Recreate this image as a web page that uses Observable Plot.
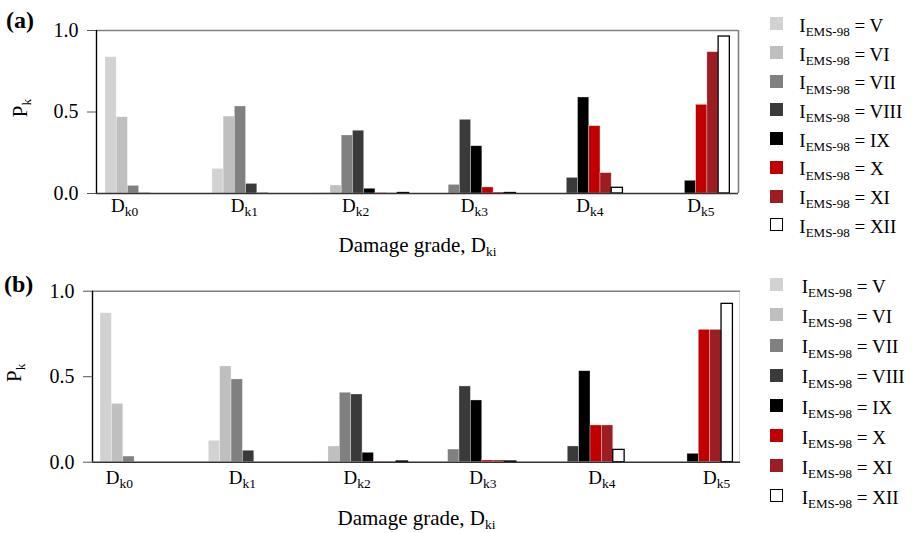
<!DOCTYPE html>
<html><head><meta charset="utf-8">
<script src="https://cdn.jsdelivr.net/npm/d3@7"></script>
<script src="https://cdn.jsdelivr.net/npm/@observablehq/plot@0.6"></script>
<style>
body{margin:0;background:#fff;}
#wrap{position:relative;width:920px;height:533px;font-family:"Liberation Serif",serif;color:#000;overflow:hidden;}
#wrap svg, #wrap svg text{font-family:"Liberation Serif",serif !important;}
.plabel{position:absolute;font-weight:bold;font-size:24px;line-height:24px;white-space:nowrap;}
.sw{position:absolute;width:13px;height:13px;box-sizing:border-box;}
.lt{position:absolute;font-size:19px;line-height:19px;white-space:nowrap;}
.sub{font-size:13px;position:relative;top:4.4px;}
</style></head><body><div id="wrap"></div>
<script>
// ---- data ----
const grades = ["D_k0", "D_k1", "D_k2", "D_k3", "D_k4", "D_k5"];
const intensities = ["V", "VI", "VII", "VIII", "IX", "X", "XI", "XII"];
const colors = ["#d2d2d2", "#bfbfbf", "#808080", "#3a3a3a", "#000000", "#c00000", "#9c1e22", "#ffffff"];

// panel (a): P_k per damage grade D_k0..D_k5
const aV    = [0.836, 0.151, 0.003, 0.000, 0.000, 0.000];
const aVI   = [0.468, 0.472, 0.049, 0.000, 0.000, 0.000];
const aVII  = [0.047, 0.534, 0.356, 0.053, 0.000, 0.000];
const aVIII = [0.002, 0.059, 0.385, 0.452, 0.096, 0.000];
const aIX   = [0.000, 0.002, 0.029, 0.290, 0.589, 0.078];
const aX    = [0.000, 0.000, 0.003, 0.037, 0.413, 0.544];
const aXI   = [0.000, 0.000, 0.001, 0.006, 0.125, 0.867];
const aXII  = [0.000, 0.000, 0.003, 0.003, 0.035, 0.963];

// panel (b)
const bV    = [0.871, 0.125, 0.002, 0.000, 0.000, 0.000];
const bVI   = [0.341, 0.560, 0.092, 0.000, 0.000, 0.000];
const bVII  = [0.033, 0.484, 0.406, 0.074, 0.000, 0.000];
const bVIII = [0.000, 0.067, 0.396, 0.443, 0.092, 0.000];
const bIX   = [0.000, 0.000, 0.055, 0.361, 0.532, 0.049];
const bX    = [0.000, 0.000, 0.003, 0.010, 0.215, 0.774];
const bXI   = [0.000, 0.000, 0.003, 0.010, 0.215, 0.774];
const bXII  = [0.000, 0.000, 0.004, 0.004, 0.072, 0.926];

// tick label positions (in group units)
const aTickPos = [0.18, 1.30, 2.34, 3.45, 4.53, 5.57];
const bTickPos = [0.175, 1.31, 2.37, 3.53, 4.63, 5.69];
const yTicks = [0, 0.5, 1];
const xTitle = "Damage grade, D_ki";
const yTitle = "P_k";

// ---- drawing ----
const BW = 0.105;
const wrap = document.getElementById("wrap");

function rows(vals) {
  const out = [];
  intensities.forEach((s, si) => grades.forEach((g, gi) => out.push({grade: g, gi, series: s, si, p: vals[si][gi]})));
  return out;
}

function subify(svg) {
  svg.querySelectorAll("text").forEach(t => {
    const s = t.textContent;
    if (!s.includes("_")) return;
    const [a, b] = s.split("_");
    while (t.firstChild) t.removeChild(t.firstChild);
    t.appendChild(document.createTextNode(a));
    const ts = document.createElementNS("http://www.w3.org/2000/svg", "tspan");
    ts.setAttribute("dy", "4");
    ts.setAttribute("font-size", "13.5");
    ts.textContent = b;
    t.appendChild(ts);
  });
}

function panel(vals, o) {
  const data = rows(vals);
  const tickMap = new Map(o.tickPos.map((p, i) => [p, grades[i]]));
  const x1 = d => d.gi + d.si * BW, x2 = d => d.gi + (d.si + 1) * BW;
  const plot = Plot.plot({
    width: 740, height: o.height,
    marginLeft: o.ml, marginRight: o.mr, marginTop: o.mt, marginBottom: o.mb,
    x: {type: "linear", domain: o.xdom},
    y: {domain: [0, 1]},
    color: {domain: intensities, range: colors},
    style: {fontFamily: "'Liberation Serif', serif", fontSize: "18px", background: "white", color: "black"},
    marks: [
      Plot.rect(data.filter(d => d.series !== "XII"), {x1, x2, y1: 0, y2: "p", fill: "series", stroke: "white", strokeOpacity: 0.45, strokeWidth: 0.7}),
      Plot.rect(data.filter(d => d.series === "XII"), {x1, x2, y1: 0, y2: "p", fill: "white", stroke: "black", strokeWidth: 1.3}),
      Plot.ruleY([1], {stroke: "#808080", strokeWidth: 1.6}),
      Plot.ruleX([o.xdom[1]], {stroke: "#808080", strokeWidth: 1.6}),
      Plot.ruleX([o.xdom[0]], {stroke: "#000", strokeWidth: 1.4}),
      Plot.ruleY([0], {stroke: "#333", strokeWidth: 1.6}),
      Plot.axisY(yTicks, {tickFormat: d3.format(".1f"), tickSize: 9, tickPadding: 9, label: null, stroke: "#555", fontSize: 20}),
      Plot.axisX(o.tickPos, {tickFormat: d => tickMap.get(d), tickSize: 0, tickPadding: o.xpad, label: null, fontSize: 19}),
      Plot.text([yTitle], {text: d => d, frameAnchor: "left", dx: o.ydx, dy: -4, rotate: -90, lineAnchor: "bottom", textAnchor: "middle", fontSize: 21}),
      Plot.text([xTitle], {text: d => d, frameAnchor: "bottom", dy: o.tdy, lineAnchor: "bottom", textAnchor: "middle", fontSize: 21})
    ]
  });
  subify(plot);
  plot.style.position = "absolute";
  plot.style.top = o.top + "px";
  plot.style.left = "0px";
  wrap.appendChild(plot);
}

panel([aV, aVI, aVII, aVIII, aIX, aX, aXI, aXII], {
  top: 0, height: 265, ml: 96, mr: 2, mt: 30, mb: 72,
  xdom: [-0.084, 5.921], tickPos: aTickPos, xpad: 5, ydx: -69.3, tdy: 58.5
});
panel([bV, bVI, bVII, bVIII, bIX, bX, bXI, bXII], {
  top: 265, height: 268, ml: 92, mr: 0, mt: 25.7, mb: 71.3,
  xdom: [-0.074, 5.91], tickPos: bTickPos, xpad: 8, ydx: -72, tdy: 62.3
});

// panel letters
function letter(txt, left, baseline) {
  const d = document.createElement("div");
  d.className = "plabel";
  d.textContent = txt;
  d.style.left = left + "px";
  d.style.top = (baseline - 20.1) + "px";
  wrap.appendChild(d);
}
letter("(a)", 6, 28);
letter("(b)", 4, 292.5);

// legends
function legend(top0, step, textLeft) {
  intensities.forEach((s, i) => {
    const t = top0 + i * step;
    const sw = document.createElement("div");
    sw.className = "sw";
    sw.style.left = "770px";
    sw.style.top = t + "px";
    sw.style.background = colors[i];
    if (s === "XII") sw.style.border = "1.3px solid #000";
    wrap.appendChild(sw);
    const lt = document.createElement("div");
    lt.className = "lt";
    lt.style.left = textLeft + "px";
    lt.style.top = (t - 1.4) + "px";
    lt.innerHTML = 'I<span class="sub">EMS-98</span> = ' + s;
    wrap.appendChild(lt);
  });
}
legend(17.3, 28.7, 799.3);
legend(278.3, 30.15, 801.7);
</script></body></html>
